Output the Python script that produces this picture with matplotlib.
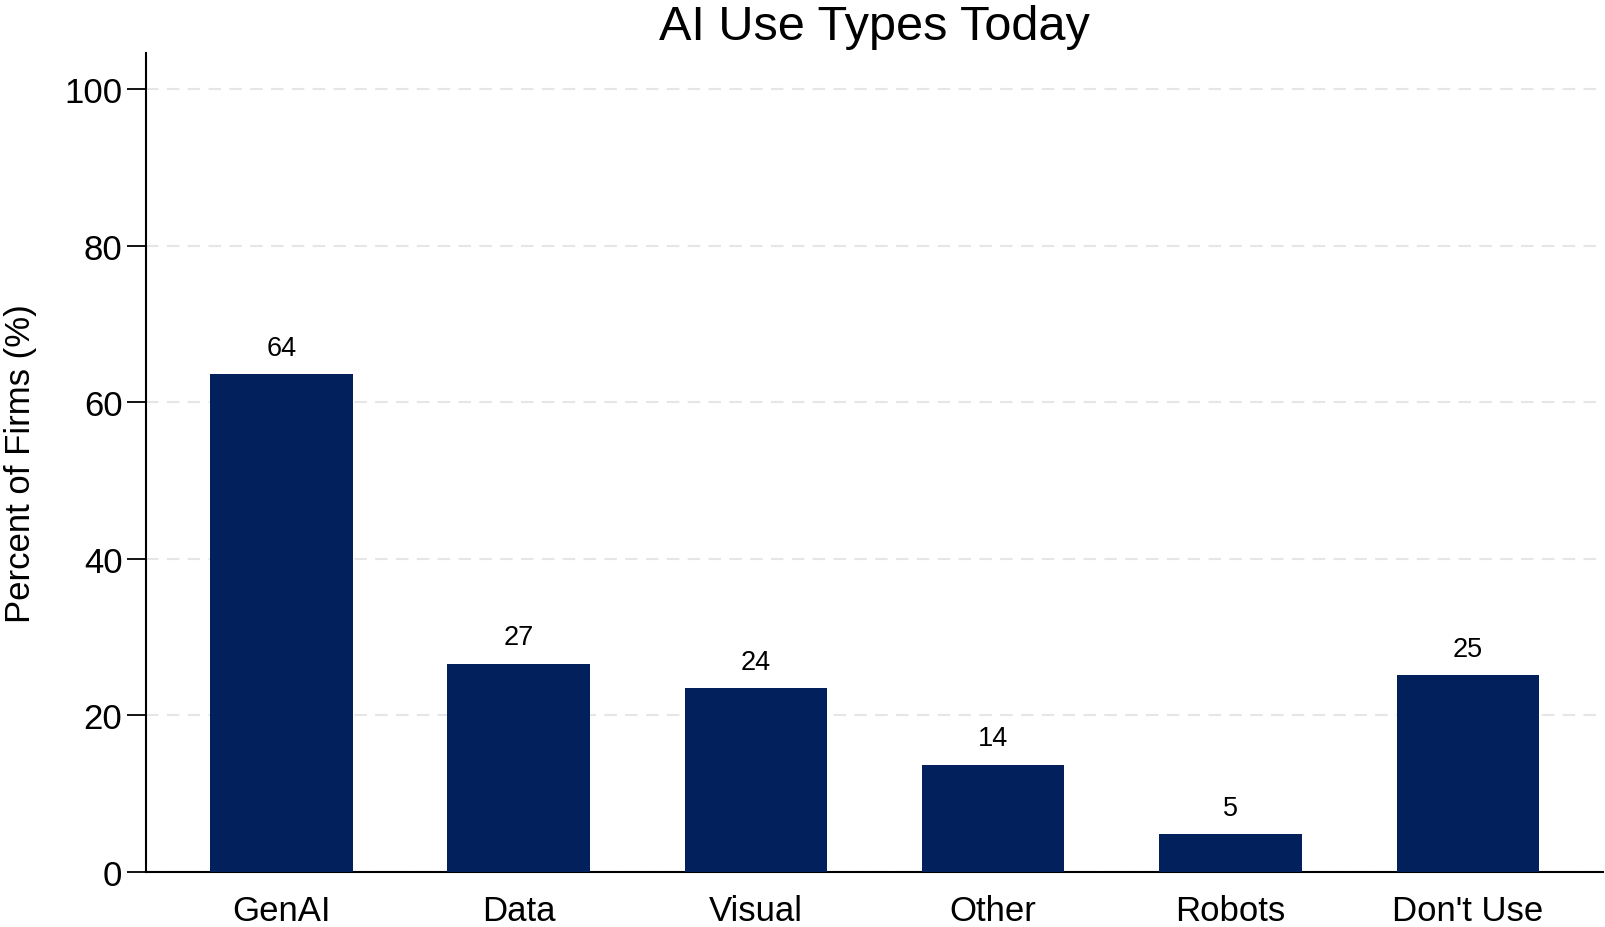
import matplotlib
matplotlib.use("Agg")
import matplotlib.pyplot as plt
import numpy as np

# values
categories = ["GenAI", "Data", "Visual", "Other", "Robots", "Don't Use"]
percent_firms = [63.6, 26.6, 23.5, 13.7, 4.8, 25.1]
y_ticks = [0, 20, 40, 60, 80, 100]

plt.rcParams['font.family'] = ['Liberation Sans', 'DejaVu Sans']

fig = plt.figure(figsize=(16.05, 9.28), dpi=100)
ax = fig.add_axes([0.091, 0.0593, 0.9078, 0.8825])

x = np.arange(len(categories))
bars = ax.bar(x, percent_firms, width=0.6, color='#02205c', zorder=3)

for xi, v in zip(x, percent_firms):
    ax.text(xi, v + 1.7, "%d" % round(v), ha='center', va='bottom', fontsize=19.5)

ax.set_xlim(-0.57, 5.57)
ax.set_ylim(0, 104.6)
ax.set_yticks(y_ticks)
ax.set_xticks(x)
ax.set_xticklabels(categories)
ax.tick_params(axis='y', length=14, width=1.3, labelsize=25, pad=3)
ax.tick_params(axis='x', length=0, labelsize=25, pad=16)
ax.yaxis.grid(True, color='#e6e6e6', linestyle=(0, (6, 4)), linewidth=1.5, zorder=0)

for s in ['top', 'right']:
    ax.spines[s].set_visible(False)
for s in ['left', 'bottom']:
    ax.spines[s].set_linewidth(1.5)

ax.set_ylabel("Percent of Firms (%)", fontsize=25, labelpad=20)
ax.set_title("AI Use Types Today", fontsize=35, pad=10)

fig.savefig("out.png", dpi=100)
